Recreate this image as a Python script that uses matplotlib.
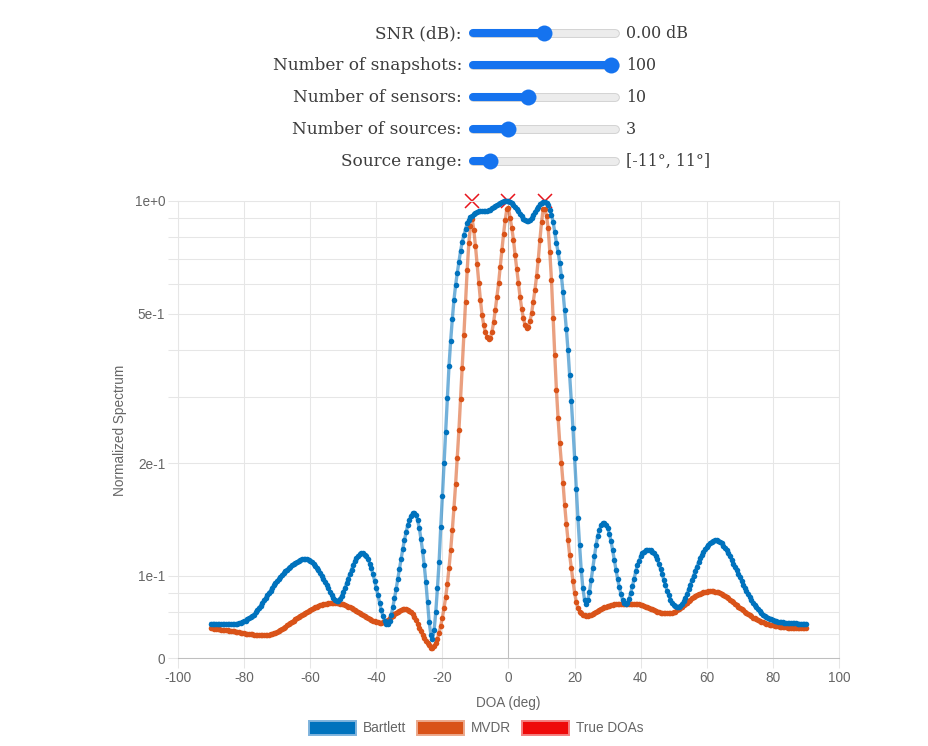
import numpy as np
import matplotlib.pyplot as plt
from matplotlib.patches import Rectangle
from matplotlib.ticker import NullLocator

plt.rcParams['font.family'] = ['Liberation Sans', 'DejaVu Sans']

# slider panel shown above the chart
slider_labels = ["SNR (dB):", "Number of snapshots:", "Number of sensors:",
                 "Number of sources:", "Source range:"]
slider_values = ["0.00 dB", "100", "10", "3", "[-11°, 11°]"]
slider_frac = [0.50, 1.0, 0.38, 0.235, 0.095]

# DOA grid (deg), spectra, normalized, in dB
doa = np.linspace(-90, 90, 361)

bartlett_db = [
    -11.27, -11.27, -11.27, -11.27, -11.28, -11.28, -11.29, -11.29, -11.29, -11.29,
    -11.29, -11.29, -11.29, -11.29, -11.29, -11.28, -11.27, -11.26, -11.25, -11.23,
    -11.21, -11.19, -11.16, -11.13, -11.10, -11.07, -11.03, -10.97, -10.91, -10.85,
    -10.79, -10.72, -10.65, -10.59, -10.52, -10.45, -10.39, -10.32, -10.25, -10.19,
    -10.13, -10.08, -10.03, -9.97, -9.92, -9.87, -9.83, -9.79, -9.75, -9.71,
    -9.68, -9.65, -9.63, -9.60, -9.58, -9.56, -9.55, -9.55, -9.56, -9.58,
    -9.61, -9.64, -9.69, -9.73, -9.79, -9.85, -9.91, -9.99, -10.07, -10.15,
    -10.24, -10.33, -10.43, -10.51, -10.59, -10.64, -10.67, -10.66, -10.61, -10.53,
    -10.43, -10.32, -10.20, -10.07, -9.95, -9.83, -9.71, -9.61, -9.53, -9.47,
    -9.42, -9.40, -9.40, -9.43, -9.48, -9.56, -9.67, -9.80, -9.96, -10.13,
    -10.32, -10.52, -10.72, -10.91, -11.07, -11.20, -11.28, -11.29, -11.21, -11.05,
    -10.84, -10.60, -10.35, -10.08, -9.81, -9.55, -9.29, -9.05, -8.84, -8.65,
    -8.51, -8.40, -8.33, -8.32, -8.37, -8.51, -8.72, -9.01, -9.33, -9.71,
    -10.16, -10.69, -11.23, -11.57, -11.68, -11.44, -10.96, -10.32, -9.63, -8.69,
    -7.87, -6.99, -6.16, -5.25, -4.40, -3.73, -3.15, -2.64, -2.24, -1.92,
    -1.63, -1.33, -1.09, -0.91, -0.75, -0.60, -0.51, -0.44, -0.40, -0.36,
    -0.33, -0.30, -0.28, -0.27, -0.27, -0.27, -0.27, -0.26, -0.25, -0.23,
    -0.20, -0.17, -0.13, -0.10, -0.07, -0.05, -0.03, -0.01, 0.00, 0.00,
    -0.01, -0.03, -0.06, -0.10, -0.15, -0.21, -0.28, -0.35, -0.41, -0.47,
    -0.51, -0.53, -0.53, -0.51, -0.45, -0.38, -0.30, -0.22, -0.15, -0.09,
    -0.05, -0.02, -0.02, -0.05, -0.12, -0.24, -0.37, -0.56, -0.83, -1.12,
    -1.36, -1.65, -2.00, -2.43, -2.91, -3.41, -3.97, -4.64, -5.33, -6.05,
    -6.85, -7.68, -8.45, -9.17, -9.84, -10.32, -10.64, -10.75, -10.64, -10.43,
    -10.11, -9.79, -9.47, -9.17, -8.93, -8.77, -8.65, -8.60, -8.59, -8.63,
    -8.72, -8.87, -9.07, -9.31, -9.57, -9.84, -10.08, -10.29, -10.48, -10.63,
    -10.72, -10.76, -10.73, -10.61, -10.45, -10.27, -10.07, -9.88, -9.72, -9.59,
    -9.48, -9.40, -9.35, -9.31, -9.30, -9.30, -9.31, -9.35, -9.40, -9.47,
    -9.56, -9.68, -9.81, -9.96, -10.11, -10.25, -10.40, -10.52, -10.63, -10.71,
    -10.77, -10.81, -10.83, -10.83, -10.81, -10.76, -10.68, -10.59, -10.48, -10.36,
    -10.24, -10.11, -9.99, -9.87, -9.75, -9.64, -9.53, -9.44, -9.36, -9.29,
    -9.23, -9.17, -9.13, -9.09, -9.07, -9.05, -9.05, -9.07, -9.09, -9.13,
    -9.19, -9.25, -9.32, -9.40, -9.48, -9.57, -9.67, -9.76, -9.85, -9.95,
    -10.04, -10.13, -10.23, -10.32, -10.40, -10.48, -10.56, -10.64, -10.71, -10.77,
    -10.84, -10.89, -10.94, -10.99, -11.03, -11.06, -11.09, -11.12, -11.14, -11.16,
    -11.18, -11.19, -11.21, -11.22, -11.23, -11.23, -11.24, -11.25, -11.25, -11.25,
    -11.26, -11.26, -11.26, -11.26, -11.26, -11.27, -11.27, -11.27, -11.27, -11.27,
    -11.27,
]

mvdr_db = [
    -11.39, -11.40, -11.41, -11.41, -11.42, -11.42, -11.43, -11.43, -11.44, -11.44,
    -11.45, -11.46, -11.46, -11.47, -11.48, -11.49, -11.50, -11.50, -11.51, -11.52,
    -11.53, -11.54, -11.54, -11.55, -11.56, -11.56, -11.57, -11.57, -11.58, -11.58,
    -11.58, -11.58, -11.58, -11.58, -11.57, -11.57, -11.55, -11.54, -11.53, -11.51,
    -11.49, -11.46, -11.43, -11.41, -11.38, -11.35, -11.32, -11.29, -11.25, -11.22,
    -11.19, -11.16, -11.13, -11.09, -11.06, -11.03, -11.01, -10.98, -10.95, -10.93,
    -10.90, -10.88, -10.86, -10.84, -10.82, -10.80, -10.78, -10.77, -10.76, -10.75,
    -10.74, -10.73, -10.73, -10.72, -10.72, -10.72, -10.72, -10.73, -10.74, -10.75,
    -10.76, -10.78, -10.79, -10.82, -10.84, -10.86, -10.89, -10.92, -10.94, -10.97,
    -11.00, -11.02, -11.05, -11.08, -11.10, -11.13, -11.15, -11.17, -11.19, -11.21,
    -11.23, -11.24, -11.25, -11.25, -11.24, -11.22, -11.20, -11.17, -11.13, -11.10,
    -11.06, -11.02, -10.99, -10.95, -10.93, -10.91, -10.89, -10.89, -10.89, -10.90,
    -10.93, -10.97, -11.02, -11.09, -11.18, -11.27, -11.38, -11.48, -11.57, -11.66,
    -11.74, -11.80, -11.85, -11.91, -11.92, -11.88, -11.79, -11.67, -11.52, -11.33,
    -11.11, -10.85, -10.56, -10.21, -9.79, -9.31, -8.77, -8.19, -7.55, -6.85,
    -6.11, -5.28, -4.45, -3.57, -2.69, -1.84, -1.12, -0.67, -0.48, -0.77,
    -1.20, -1.68, -2.19, -2.64, -3.04, -3.31, -3.49, -3.63, -3.69, -3.65,
    -3.49, -3.23, -2.91, -2.56, -2.19, -1.76, -1.31, -0.88, -0.51, -0.21,
    -0.19, -0.45, -0.72, -1.04, -1.44, -1.81, -2.19, -2.56, -2.88, -3.12,
    -3.31, -3.39, -3.35, -3.20, -2.99, -2.69, -2.37, -2.00, -1.57, -1.04,
    -0.56, -0.21, -0.21, -0.40, -0.72, -1.36, -2.11, -3.12, -4.11, -5.04,
    -5.79, -6.45, -6.99, -7.52, -8.11, -8.61, -9.04, -9.44, -9.79, -10.13,
    -10.45, -10.69, -10.85, -10.95, -11.00, -11.03, -11.05, -11.06, -11.06, -11.05,
    -11.03, -11.01, -10.98, -10.95, -10.93, -10.90, -10.87, -10.85, -10.83, -10.82,
    -10.80, -10.79, -10.78, -10.77, -10.76, -10.75, -10.75, -10.75, -10.74, -10.74,
    -10.74, -10.74, -10.74, -10.74, -10.74, -10.74, -10.74, -10.75, -10.75, -10.76,
    -10.77, -10.78, -10.80, -10.82, -10.84, -10.86, -10.87, -10.89, -10.91, -10.93,
    -10.95, -10.96, -10.98, -10.99, -10.99, -11.00, -11.00, -11.00, -11.00, -10.99,
    -10.97, -10.95, -10.92, -10.89, -10.86, -10.82, -10.78, -10.75, -10.71, -10.67,
    -10.64, -10.60, -10.57, -10.54, -10.51, -10.49, -10.47, -10.45, -10.43, -10.42,
    -10.42, -10.41, -10.41, -10.41, -10.41, -10.42, -10.43, -10.44, -10.46, -10.48,
    -10.51, -10.53, -10.56, -10.59, -10.63, -10.67, -10.70, -10.74, -10.78, -10.82,
    -10.85, -10.89, -10.92, -10.96, -10.99, -11.02, -11.05, -11.08, -11.11, -11.13,
    -11.16, -11.18, -11.20, -11.22, -11.24, -11.25, -11.27, -11.28, -11.30, -11.31,
    -11.32, -11.33, -11.34, -11.34, -11.35, -11.36, -11.36, -11.37, -11.37, -11.38,
    -11.38, -11.38, -11.39, -11.39, -11.39, -11.39, -11.40, -11.40, -11.40, -11.40,
    -11.40,
]

true_doas = [-11, 0, 11]
true_level = [1.0, 1.0, 1.0]

legend_names = ["Bartlett", "MVDR", "True DOAs"]

bartlett = 10 ** (np.array(bartlett_db) / 10)
mvdr = 10 ** (np.array(mvdr_db) / 10)

W, H = 929, 746
BLUE = '#0072BD'
ORANGE = '#D95319'
GRID = '#e6e6e6'
ZERO = '#bfbfbf'
TXT = '#666666'

fig = plt.figure(figsize=(W / 100, H / 100), dpi=100)
fig.patch.set_facecolor('white')

# overlay in pixel coordinates for the sliders and the legend
ov = fig.add_axes([0, 0, 1, 1])
ov.set_xlim(0, W)
ov.set_ylim(H, 0)
ov.axis('off')

row_y = [33, 64.5, 96.5, 128.5, 161]
trk0, trk1 = 473.5, 615.5
knob_lo, knob_hi = 477, 611
slider_blue = '#1573ef'
for lab, val, f, y in zip(slider_labels, slider_values, slider_frac, row_y):
    ov.text(462, y + 5, lab, ha='right', va='baseline', fontsize=12.2,
            family=['DejaVu Serif'], color='#3c3c3c')
    ov.plot([trk0, trk1], [y, y], color='#cfcfcf', lw=6.3, solid_capstyle='round')
    ov.plot([trk0, trk1], [y, y], color='#ececec', lw=5.0, solid_capstyle='round')
    kx = knob_lo + f * (knob_hi - knob_lo)
    ov.plot([trk0, kx], [y, y], color=slider_blue, lw=5.8, solid_capstyle='round')
    ov.plot(kx, y, 'o', ms=11.5, color=slider_blue, mew=0)
    ov.text(626, y + 5, val, ha='left', va='baseline', fontsize=11.4,
            family=['DejaVu Serif'], color='#3c3c3c')

# legend boxes under the chart
box_x = [309, 417, 522]
box_fill = [BLUE, ORANGE, '#ee0a0a']
box_edge = ['#7fb3dd', '#eca98c', '#f47f7f']
for name, bx, fc, ec in zip(legend_names, box_x, box_fill, box_edge):
    ov.add_patch(Rectangle((bx, 721), 47, 14, facecolor=fc, edgecolor=ec, lw=1.4))
    ov.text(bx + 54, 728.5, name, ha='left', va='center', fontsize=9.8, color=TXT)

# main chart
ax = fig.add_axes([178 / W, 1 - 658 / H, 661 / W, 457 / H])
ax.set_facecolor('white')

ax.plot(true_doas, true_level, 'x', color='#e8141c', ms=9.5, mew=1.1,
        clip_on=False, zorder=2)
ax.plot(doa, mvdr, color=(0.851, 0.325, 0.098, 0.55), lw=2.4, marker='o', ms=4.0,
        mfc=ORANGE, mec='none', clip_on=False, zorder=3)
ax.plot(doa, bartlett, color=(0.0, 0.447, 0.741, 0.55), lw=2.4, marker='o', ms=4.0,
        mfc=BLUE, mec='none', clip_on=False, zorder=4)

y_bottom = 0.0604
ax.set_yscale('log')
ax.set_xlim(-100, 100)
ax.set_ylim(y_bottom, 1.0)

x_ticks = list(range(-100, 101, 20))
ax.set_xticks(x_ticks)
ax.set_xticklabels([str(t) for t in x_ticks])

y_major = [y_bottom, 0.1, 0.2, 0.5, 1.0]
y_labels = ['0', '1e-1', '2e-1', '5e-1', '1e+0']
y_extra = [0.07, 0.08, 0.09, 0.3, 0.4, 0.6, 0.7, 0.8, 0.9]
ax.set_yticks(y_major + y_extra)
ax.set_yticklabels(y_labels + [''] * len(y_extra))
ax.yaxis.set_minor_locator(NullLocator())

ax.set_axisbelow(True)
ax.grid(True, color=GRID, lw=0.75)
ax.axvline(0, color=ZERO, lw=0.75, zorder=1)
ax.tick_params(length=7.2, width=0.75, color=GRID, labelcolor=TXT,
               labelsize=9.8, pad=2)
for side in ['left', 'top', 'right']:
    ax.spines[side].set_color(GRID)
    ax.spines[side].set_linewidth(0.75)
ax.spines['bottom'].set_color(ZERO)
ax.spines['bottom'].set_linewidth(0.75)

fig.text(120 / W, 1 - 430 / H, 'Normalized Spectrum', rotation=90,
         ha='center', va='center', fontsize=9.8, color=TXT)
fig.text(508 / W, 1 - 703 / H, 'DOA (deg)', ha='center', va='center',
         fontsize=9.8, color=TXT)

fig.savefig('out.png', dpi=100)
